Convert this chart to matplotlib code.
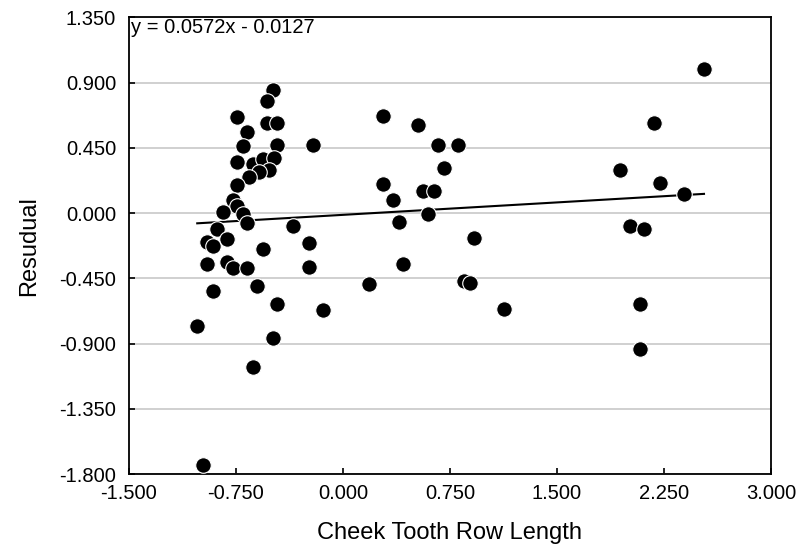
import matplotlib.pyplot as plt
import numpy as np

plt.rcParams['font.family'] = ['Liberation Sans', 'DejaVu Sans']

# cheek tooth row length vs residual
row_length = [
    2.53, 2.18, 1.94, 2.22, 2.39, 2.01, 2.11, 2.08, 2.08,
    0.28, 0.53, 0.67, 0.81, 0.71, 0.28, 0.56, 0.64, 0.35, 0.60,
    0.39, 0.92, 0.42, 0.18, 0.85, 0.89, 1.13,
    -0.49, -0.53, -0.74, -0.53, -0.46, -0.67, -0.70, -0.46, -0.21,
    -0.74, -0.63, -0.56, -0.48, -0.52, -0.59, -0.66, -0.74, -0.77,
    -0.74, -0.84, -0.70, -0.67, -0.35, -0.88, -0.81, -0.95, -0.91,
    -0.24, -0.56, -0.95, -0.81, -0.77, -0.67, -0.24, -0.60, -0.91,
    -0.46, -0.14, -1.02, -0.49, -0.63, -0.98,
]
residual = [
    0.99, 0.62, 0.30, 0.21, 0.13, -0.09, -0.11, -0.63, -0.94,
    0.67, 0.61, 0.47, 0.47, 0.31, 0.20, 0.15, 0.15, 0.09, -0.005,
    -0.06, -0.17, -0.35, -0.49, -0.47, -0.48, -0.66,
    0.85, 0.77, 0.66, 0.62, 0.62, 0.56, 0.46, 0.47, 0.47,
    0.35, 0.34, 0.37, 0.38, 0.30, 0.28, 0.25, 0.19, 0.09,
    0.05, 0.01, -0.01, -0.07, -0.09, -0.11, -0.18, -0.20, -0.23,
    -0.21, -0.25, -0.35, -0.34, -0.38, -0.38, -0.37, -0.50, -0.54,
    -0.63, -0.67, -0.78, -0.86, -1.06, -1.74,
]

slope = 0.0572
intercept = -0.0127

x_ticks = [-1.5, -0.75, 0.0, 0.75, 1.5, 2.25, 3.0]
y_ticks = [-1.8, -1.35, -0.9, -0.45, 0.0, 0.45, 0.9, 1.35]

fig = plt.figure(figsize=(7.96, 5.48), dpi=100)
ax = fig.add_axes([0.1617, 0.135, 0.807, 0.8335])

# trend line over the data range
xs = np.array([min(row_length), max(row_length)])
ax.plot(xs, slope * xs + intercept, color='black', lw=1.5, zorder=2)

ax.scatter(row_length, residual, s=125, color='black',
           edgecolors='white', linewidths=0.8, zorder=3)

ax.set_xlim(-1.5, 3.0)
ax.set_ylim(-1.8, 1.35)
ax.set_xticks(x_ticks)
ax.set_yticks(y_ticks)
ax.set_xticklabels(['%.3f' % v for v in x_ticks])
ax.set_yticklabels(['%.3f' % v for v in y_ticks])
ax.yaxis.grid(True, color='#c8c8c8', lw=1.2)
ax.set_axisbelow(True)

ax.tick_params(axis='both', direction='in', length=4, width=1.2,
               labelsize=14.5, colors='black')
ax.tick_params(axis='y', pad=9)
ax.tick_params(axis='x', pad=7)
for sp in ax.spines.values():
    sp.set_linewidth(1.3)

ax.set_xlabel('Cheek Tooth Row Length', fontsize=17, labelpad=14)
ax.set_ylabel('Resudual', fontsize=17, labelpad=14)

eq = 'y = %.4fx - %.4f' % (slope, abs(intercept))
ax.text(0.003, 0.998, eq, transform=ax.transAxes, ha='left', va='top',
        fontsize=14.5)

fig.savefig('out.png', dpi=100)
